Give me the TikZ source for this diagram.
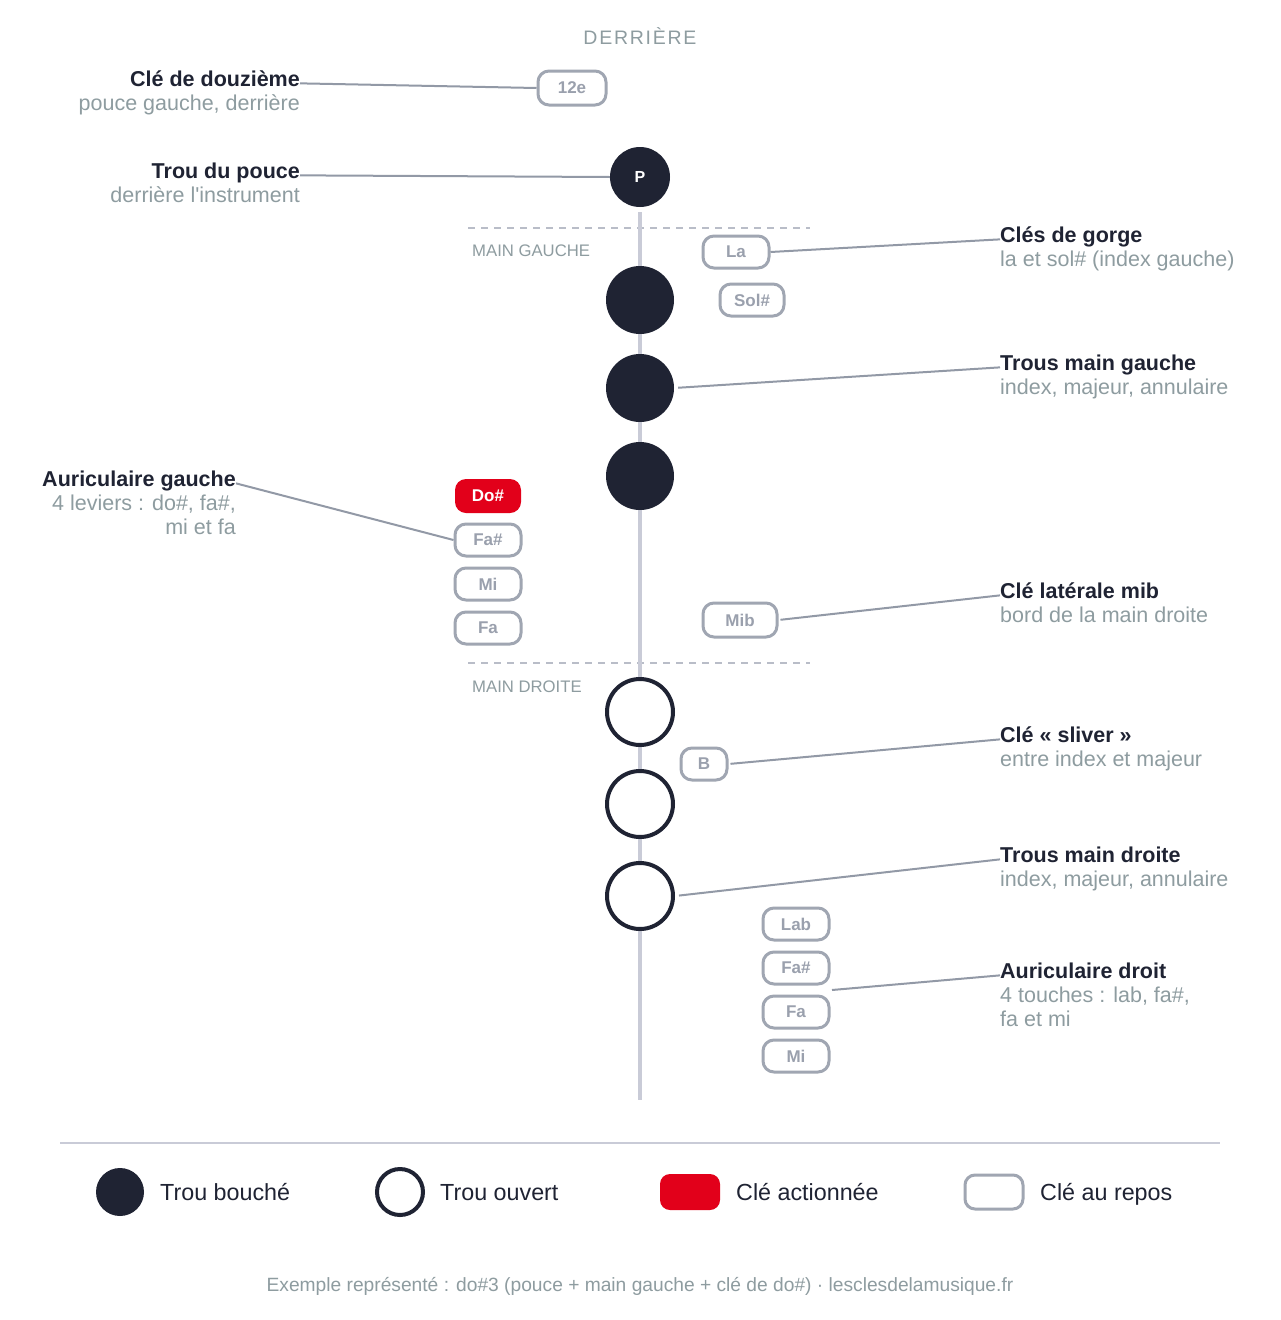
\documentclass[tikz,border=0pt]{standalone}
\usepackage{fontspec}
\setmainfont{Liberation Sans}
\definecolor{dark}{HTML}{1F2333}
\definecolor{keyg}{HTML}{A0A6B2}
\definecolor{keyt}{HTML}{9AA0AD}
\definecolor{subc}{HTML}{8E9CA0}
\definecolor{conn}{HTML}{9299A6}
\definecolor{axisc}{HTML}{C9CBD7}
\definecolor{dashc}{HTML}{B9BDC8}
\definecolor{act}{HTML}{E2001A}
\begin{document}
\begin{tikzpicture}[x=1pt,y=-1pt,
  title/.style={inner sep=0pt,font=\fontsize{21.5}{25}\selectfont\bfseries,text=dark},
  subt/.style={inner sep=0pt,font=\fontsize{21.5}{25}\selectfont,text=subc},
  keybox/.style={draw=keyg,line width=3pt,rounded corners=11pt,fill=white,minimum height=32pt,inner sep=0pt,font=\fontsize{17}{20}\selectfont\bfseries,text=keyt},
  actkey/.style={fill=act,rounded corners=11pt,minimum height=34pt,inner sep=0pt,font=\fontsize{17}{20}\selectfont\bfseries,text=white},
  closed/.style={circle,fill=dark,minimum size=68pt,inner sep=0pt},
  openh/.style={circle,draw=dark,line width=4pt,fill=white,minimum size=66pt,inner sep=0pt},
  conline/.style={draw=conn,line width=2pt},
  sepline/.style={draw=dashc,line width=1.5pt,dash pattern=on 7pt off 6pt},
  handlbl/.style={inner sep=0pt,anchor=base west,font=\fontsize{16.7}{20}\selectfont,text=subc},
  legtxt/.style={inner sep=0pt,anchor=base west,font=\fontsize{23.3}{27}\selectfont,text=dark}]
\useasboundingbox (0,0) rectangle (1280,1320);
\fill[white] (0,0) rectangle (1280,1320);
% axis
\coordinate (axtop) at (640,212);
\coordinate (axbot) at (640,1100);
\draw[axisc,line width=4pt] (axtop) -- (axbot);
% dashed separators
\coordinate (d1a) at (468,228); \coordinate (d1b) at (810,228);
\coordinate (d2a) at (468,663); \coordinate (d2b) at (810,663);
\draw[sepline] (d1a) -- (d1b);
\draw[sepline] (d2a) -- (d2b);
\draw[axisc,line width=4pt] (640,222) -- (640,235) (640,657) -- (640,670);
% header
\node[inner sep=0pt,anchor=base,font=\fontsize{19.5}{23}\selectfont\addfontfeature{LetterSpace=9},text=subc] (hdr) at (640,44) {DERRIÈRE};
\node[handlbl] (mg) at (472,256) {MAIN GAUCHE};
\node[handlbl] (md) at (472,692) {MAIN DROITE};
% keys and holes
\node[keybox,minimum width=68pt,minimum height=34pt] (k12) at (572,88) {12e};
\node[circle,fill=dark,minimum size=60pt,inner sep=0pt,font=\fontsize{16}{19}\selectfont\bfseries,text=white] (P) at (640,177) {P};
\node[keybox,minimum width=66pt] (kla) at (736,252) {La};
\node[keybox,minimum width=64pt] (ksol) at (752,300) {Sol\#};
\node[closed] (h1) at (640,300) {};
\node[closed] (h2) at (640,388) {};
\node[closed] (h3) at (640,476) {};
\node[actkey,minimum width=66pt] (kdo) at (488,496) {Do\#};
\node[keybox,minimum width=66pt] (kfa1) at (488,540) {Fa\#};
\node[keybox,minimum width=66pt] (kmi1) at (488,584) {Mi};
\node[keybox,minimum width=66pt] (kfa2) at (488,628) {Fa};
\node[keybox,minimum width=74pt,minimum height=34pt] (kmib) at (740,620) {Mib};
\node[openh] (h4) at (640,712) {};
\node[openh] (h5) at (640,804) {};
\node[openh] (h6) at (640,896) {};
\node[keybox,minimum width=46pt] (kb) at (704,764) {B};
\node[keybox,minimum width=66pt] (klab) at (796,924) {Lab};
\node[keybox,minimum width=66pt] (kfa3) at (796,968) {Fa\#};
\node[keybox,minimum width=66pt] (kfa4) at (796,1012) {Fa};
\node[keybox,minimum width=66pt] (kmi2) at (796,1056) {Mi};
% left labels
\node[title,anchor=base east] (t12) at (300,86) {Clé de douzième};
\node[subt,anchor=base east] (s12) at (300,110) {pouce gauche, derrière};
\node[title,anchor=base east] (tP) at (300,178) {Trou du pouce};
\node[subt,anchor=base east] (sP) at (300,202) {derrière l\textquotesingle instrument};
\node[title,anchor=base east] (tag) at (236,486) {Auriculaire gauche};
\node[subt,anchor=base east] (sag1) at (236,510) {4 leviers : do\#, fa\#,};
\node[subt,anchor=base east] (sag2) at (236,534) {mi et fa};
% right labels
\node[title,anchor=base west] (tgo) at (1000,242) {Clés de gorge};
\node[subt,anchor=base west] (sgo) at (1000,266) {la et sol\# (index gauche)};
\node[title,anchor=base west] (tmg) at (1000,370) {Trous main gauche};
\node[subt,anchor=base west] (smg) at (1000,394) {index, majeur, annulaire};
\node[title,anchor=base west] (tmib) at (1000,598) {Clé latérale mib};
\node[subt,anchor=base west] (smib) at (1000,622) {bord de la main droite};
\node[title,anchor=base west] (tsl) at (1000,742) {Clé « sliver »};
\node[subt,anchor=base west] (ssl) at (1000,766) {entre index et majeur};
\node[title,anchor=base west] (tmd) at (1000,862) {Trous main droite};
\node[subt,anchor=base west] (smd) at (1000,886) {index, majeur, annulaire};
\node[title,anchor=base west] (tad) at (1000,978) {Auriculaire droit};
\node[subt,anchor=base west] (sad1) at (1000,1002) {4 touches : lab, fa\#,};
\node[subt,anchor=base west] (sad2) at (1000,1026) {fa et mi};
% connectors
\coordinate (rdp) at (832,990);
\draw[conline] (t12.mid east) -- (k12.west);
\draw[conline] (tP.mid east) -- (P.west);
\draw[conline] (kla.east) -- (tgo.mid west);
\draw[conline,shorten <=4pt] (h2.east) -- (tmg.mid west);
\draw[conline] (tag.mid east) -- (kfa1.west);
\draw[conline,shorten <=2pt] (kmib.east) -- (tmib.mid west);
\draw[conline,shorten <=2pt] (kb.east) -- (tsl.mid west);
\draw[conline,shorten <=4pt] (h6.east) -- (tmd.mid west);
\draw[conline] (rdp) -- (tad.mid west);
% legend
\coordinate (sepa) at (60,1143); \coordinate (sepb) at (1220,1143);
\draw[axisc,line width=2pt] (sepa) -- (sepb);
\node[circle,fill=dark,minimum size=48pt,inner sep=0pt] (l1) at (120,1192) {};
\node[legtxt] (l1t) at (160,1200) {Trou bouché};
\node[circle,draw=dark,line width=4pt,minimum size=46pt,inner sep=0pt] (l2) at (400,1192) {};
\node[legtxt] (l2t) at (440,1200) {Trou ouvert};
\node[fill=act,rounded corners=10pt,minimum width=60pt,minimum height=36pt,inner sep=0pt] (l3) at (690,1192) {};
\node[legtxt] (l3t) at (736,1200) {Clé actionnée};
\node[draw=keyg,line width=3pt,rounded corners=10pt,minimum width=58pt,minimum height=34pt,inner sep=0pt] (l4) at (994,1192) {};
\node[legtxt] (l4t) at (1040,1200) {Clé au repos};
% footer
\node[inner sep=0pt,anchor=base,font=\fontsize{19.2}{22}\selectfont,text=subc] (foot) at (640,1291) {Exemple représenté : do\#3 (pouce + main gauche + clé de do\#) · lesclesdelamusique.fr};
\end{tikzpicture}
\end{document}
